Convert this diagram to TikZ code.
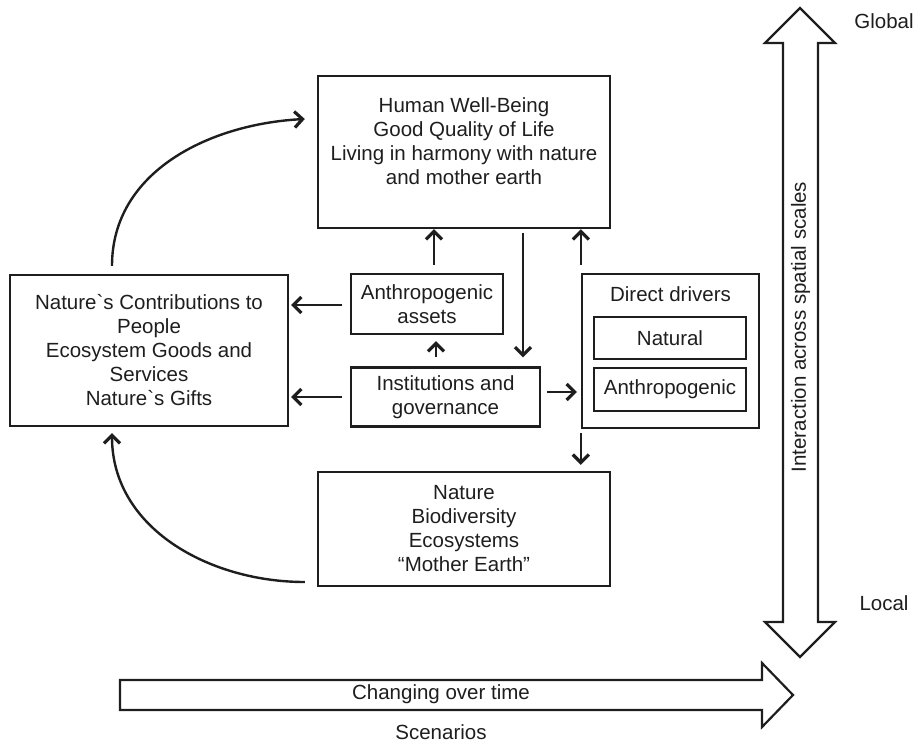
\documentclass[tikz,border=0pt]{standalone}
\usepackage{fontspec}
\setmainfont{Liberation Sans}[Ligatures=TeXOff]
\usetikzlibrary{arrows.meta}
\newcommand{\diagfs}{\fontsize{20.5pt}{24pt}\selectfont}
\definecolor{ink}{RGB}{30,30,30}
\begin{document}
\begin{tikzpicture}[x=1pt,y=-1pt, line width=2.4pt, color=ink,
  box/.style={draw, rectangle, inner sep=0pt, align=center, font=\diagfs},
  lbl/.style={align=center, inner sep=0pt, font=\diagfs},
  arr/.style={-{Straight Barb[length=8pt,width=16pt,line width=3.2pt 0]}},
  bigarrow/.style={draw, line width=2.2pt, line join=miter}]
\useasboundingbox (0,0) rectangle (916,742);

% boxes
\node[box, minimum width=292pt, minimum height=152pt] (hwb) at (464,152) {};
\node[lbl] (hwbt) at (464,141) {Human Well-Being\\Good Quality of Life\\Living in harmony with nature\\and mother earth};

\node[box, minimum width=278pt, minimum height=151pt] (ncp) at (149,350.5)
  {Nature`s Contributions to\\People\\Ecosystem Goods and\\Services\\Nature`s Gifts};

\node[box, minimum width=152pt, minimum height=60pt] (assets) at (427,304) {Anthropogenic\\assets};
\node[box, minimum width=189pt, minimum height=59pt] (inst) at (445.5,397) {Institutions and\\governance};

\node[box, minimum width=177pt, minimum height=154pt] (dd) at (670.5,351) {};
\node[lbl] (ddt) at (670.5,294) {Direct drivers};
\node[box, minimum width=152pt, minimum height=42pt] (nat) at (670,338) {Natural};
\node[box, minimum width=152pt, minimum height=43pt] (anth) at (670,389.5) {Anthropogenic};

\node[box, minimum width=292pt, minimum height=114pt] (nature) at (464,529)
  {Nature\\Biodiversity\\Ecosystems\\“Mother Earth”};

% straight connectors
\draw[arr, shorten <=8pt] ([xshift=7pt]assets.north) -- ([xshift=7pt]assets.north |- hwb.south);
\draw[arr, shorten <=4pt, shorten >=9pt] ([xshift=59pt]hwb.south) -- ([xshift=59pt]hwb.south |- inst.north);
\draw[arr, shorten <=8pt] (dd.north west) -- (dd.north west |- hwb.south);
\draw[arr, shorten <=9pt, shorten >=6pt] ([xshift=-9.5pt]inst.north) -- ([xshift=-9.5pt]inst.north |- assets.south);
\draw[arr, shorten <=6pt, shorten >=4pt] ([yshift=5pt]inst.east) -- ([yshift=5pt]inst.east -| dd.west);
\draw[arr, shorten <=8pt, shorten >=2pt] ([yshift=-1pt]assets.west) -- ([yshift=-1pt]assets.west -| ncp.east);
\draw[arr, shorten <=8pt, shorten >=2pt] (inst.west) -- (inst.west -| ncp.east);
\draw[arr, shorten <=4pt, shorten >=6pt] (dd.south west) -- (dd.south west |- nature.north);

% curved connectors
\draw[arr] ([xshift=-37pt,yshift=8pt]ncp.north) to[out=90,in=183] ([xshift=-12pt,yshift=33pt]hwb.west);
\draw[arr] ([xshift=-12pt,yshift=-53pt]nature.west) to[out=180,in=-90] ([xshift=-37pt,yshift=-6pt]ncp.south);

% vertical double arrow
\draw[bigarrow] (800,8) -- (835,43) -- (818,43) -- (818,622) -- (835,622) -- (800,657)
  -- (765,622) -- (783,622) -- (783,43) -- (765,43) -- cycle;
\node[lbl, rotate=90] (scales) at (800.5,327) {Interaction across spatial scales};
\node[lbl] (global) at (884,21) {Global};
\node[lbl] (local) at (884,603) {Local};

% horizontal arrow
\draw[bigarrow] (120,680) -- (762,680) -- (762,663) -- (793,695) -- (762,727) -- (762,710) -- (120,710) -- cycle;
\node[lbl] (time) at (441,694) {Changing over time};
\node[lbl] (scen) at (441,732) {Scenarios};
\end{tikzpicture}
\end{document}
